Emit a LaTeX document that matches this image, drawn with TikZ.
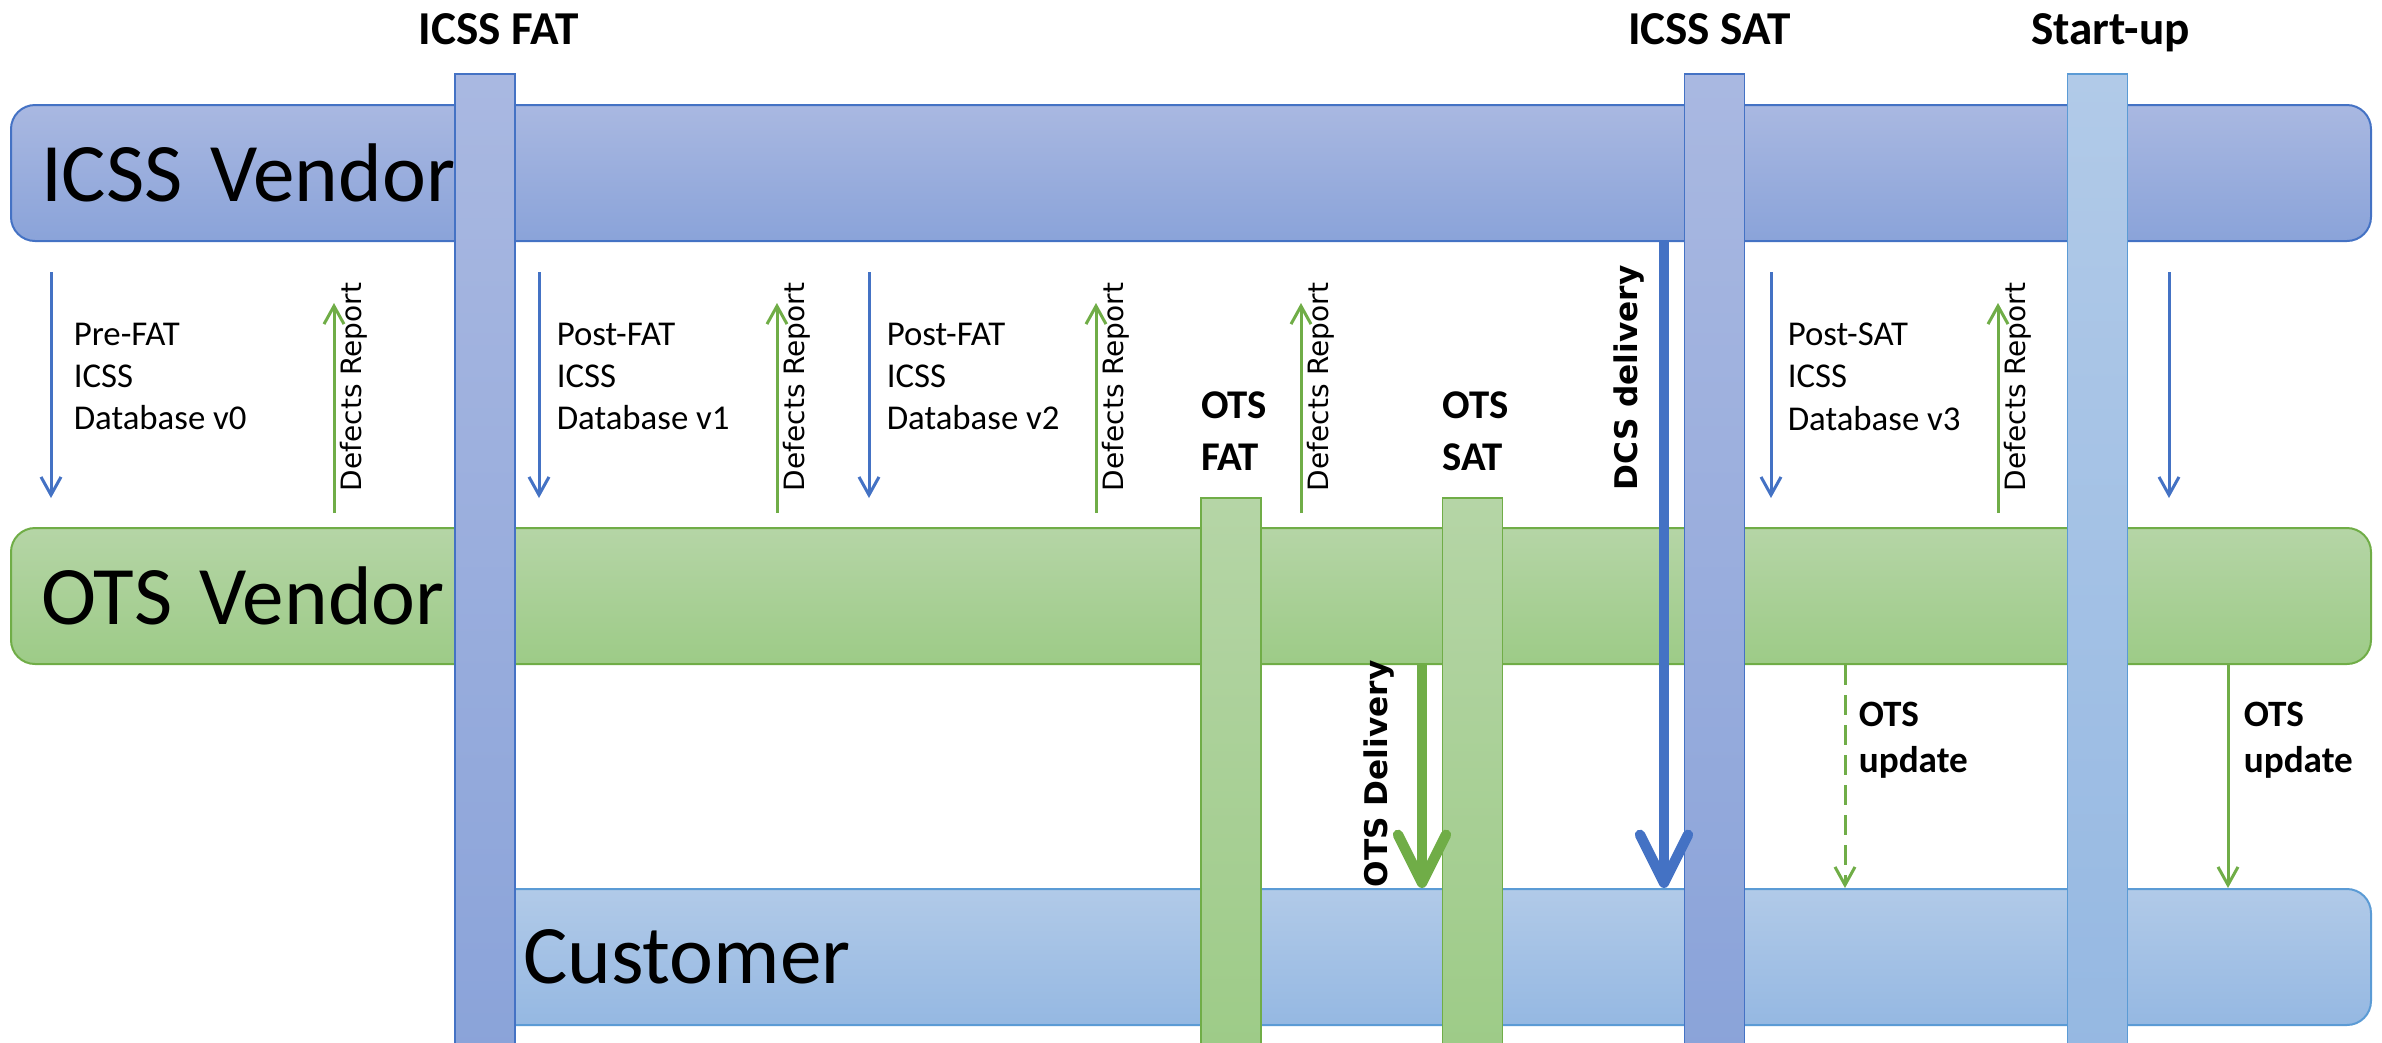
\documentclass[tikz,border=0pt]{standalone}
\usepackage{fontspec}
\setmainfont{Carlito}
\newfontfamily\dejavu{DejaVu Sans}
\usetikzlibrary{positioning, arrows.meta}

\definecolor{icssTop}{HTML}{A9B8E1}
\definecolor{icssBot}{HTML}{8AA3D9}
\definecolor{icssLine}{HTML}{4472C4}
\definecolor{otsTop}{HTML}{B5D5A6}
\definecolor{otsBot}{HTML}{9DCB87}
\definecolor{otsLine}{HTML}{70AD47}
\definecolor{custTop}{HTML}{B1CAE8}
\definecolor{custBot}{HTML}{95B8E2}
\definecolor{custLine}{HTML}{5B9BD5}

\begin{document}
\begin{tikzpicture}[
  x=0.25pt, y=-0.25pt,
  band/.style={rectangle, rounded corners=6pt, line width=0.5pt,
               minimum height=34pt, align=left,
               font=\fontsize{20.8}{25}\selectfont},
  icssband/.style={band, draw=icssLine, top color=icssTop, bottom color=icssBot,
                   inner xsep=7.5pt, text width=575pt},
  otsband/.style={band, draw=otsLine, top color=otsTop, bottom color=otsBot,
                  inner xsep=7.5pt, text width=575pt},
  custband/.style={band, draw=custLine, top color=custTop, bottom color=custBot,
                   inner xsep=10.75pt, text width=451.25pt},
  bar/.style={rectangle, line width=0.4pt, minimum width=15pt, inner sep=0pt},
  icssbar/.style={bar, draw=icssLine, top color=icssTop, bottom color=icssBot,
                  minimum height=246.5pt},
  startbar/.style={bar, draw=custLine, top color=custTop, bottom color=custBot,
                   minimum height=246.5pt},
  otsbar/.style={bar, draw=otsLine, top color=otsTop, bottom color=otsBot,
                 minimum height=140.5pt},
  thinblue/.style={-{Straight Barb[length=4.5pt, width=5pt]}, line width=0.75pt, draw=icssLine},
  thingreen/.style={-{Straight Barb[length=4.5pt, width=5pt]}, line width=0.75pt, draw=otsLine},
  bigarrow/.style={-{Straight Barb[length=12pt, width=12pt, round]}, line width=2.6pt},
  dblabel/.style={anchor=north west, inner sep=0pt, align=left,
                  font=\fontsize{8.7}{10.6}\selectfont},
  defects/.style={rotate=90, anchor=base west, inner sep=0pt,
                  font=\dejavu\fontsize{7}{8.4}\selectfont},
  dellabel/.style={rotate=90, anchor=base west, inner sep=0pt,
                   font=\dejavu\bfseries\fontsize{7.8}{9}\selectfont},
  mslabel/.style={inner sep=0pt, text depth=0pt,
                  font=\bfseries\fontsize{11.8}{14}\selectfont},
  otsmslabel/.style={inner sep=0pt, align=left,
                     font=\bfseries\fontsize{10.2}{13}\selectfont},
  updlabel/.style={anchor=north west, inner sep=0pt, align=left,
                   font=\bfseries\fontsize{9.3}{11.5}\selectfont},
]
\useasboundingbox (0,0) rectangle (2382,1042);

% Swimlanes
\node[icssband] (icss) at (1191,173) {ICSS Vendor};
\node[otsband]  (ots)  at (1191,596) {OTS Vendor};
\node[custband] (cust) at (1425.5,957) {Customer};

% Milestones
\node[icssbar]  (icssfat) at (485,567) {};
\node[otsbar]   (otsfat)  at (1231,779) {};
\node[otsbar]   (otssat)  at (1472.5,779) {};
\node[icssbar]  (icsssat) at (1714.5,567) {};
\node[startbar] (startup) at (2097.5,567) {};

\node[mslabel, above=6.9pt of icssfat, xshift=3.5pt]   (fatlbl)   {ICSS FAT};
\node[mslabel, above=6.9pt of icsssat, xshift=-1.25pt] (satlbl)   {ICSS SAT};
\node[mslabel, above=6.9pt of startup, xshift=3.25pt]  (startlbl) {Start-up};
\node[otsmslabel, above=6.5pt of otsfat.north west, anchor=south west] (otsfatlbl) {OTS\\FAT};
\node[otsmslabel, above=6.5pt of otssat.north west, anchor=south west] (otssatlbl) {OTS\\SAT};

% Databases ICSS -> OTS
\foreach \x [count=\i] in {51,539,869,1771,2169}{
  \coordinate (dbs\i) at (\x,272);
  \coordinate (dbe\i) at (\x,498);
  \draw[thinblue] (dbs\i) -- (dbe\i);
}
\node[dblabel] (db0) at (73,322)   {Pre-FAT\\ICSS\\Database v0};
\node[dblabel] (db1) at (556,322)  {Post-FAT\\ICSS\\Database v1};
\node[dblabel] (db2) at (886,322)  {Post-FAT\\ICSS\\Database v2};
\node[dblabel] (db3) at (1787,322) {Post-SAT\\ICSS\\Database v3};

% Defects reports OTS -> ICSS
\foreach \x [count=\i] in {334,777,1096,1301,1998}{
  \coordinate (drs\i) at (\x,513);
  \coordinate (dre\i) at (\x,303);
  \draw[thingreen] (drs\i) -- (dre\i);
  \node[defects] (dr\i) at (\x+27,492) {Defects Report};
}

% Deliveries to the customer
\coordinate (dcsx) at (1664,0);
\coordinate (otsdx) at (1422,0);
\coordinate (upd1x) at (1845,0);
\coordinate (upd2x) at (2228,0);
\draw[bigarrow, draw=icssLine] (icss.south -| dcsx) -- (cust.north -| dcsx);
\draw[bigarrow, draw=otsLine] (ots.south -| otsdx) -- (cust.north -| otsdx);
\draw[thingreen, dash pattern=on 5pt off 2.5pt] (ots.south -| upd1x) -- (cust.north -| upd1x);
\draw[thingreen] (ots.south -| upd2x) -- (cust.north -| upd2x);

\node[dellabel] (dcslbl)  at (1637,491) {DCS delivery};
\node[dellabel] (otsdlbl) at (1387,888) {OTS Delivery};
\node[updlabel] (upd1lbl) at (1858,701) {OTS\\update};
\node[updlabel] (upd2lbl) at (2243,701) {OTS\\update};
\end{tikzpicture}
\end{document}
